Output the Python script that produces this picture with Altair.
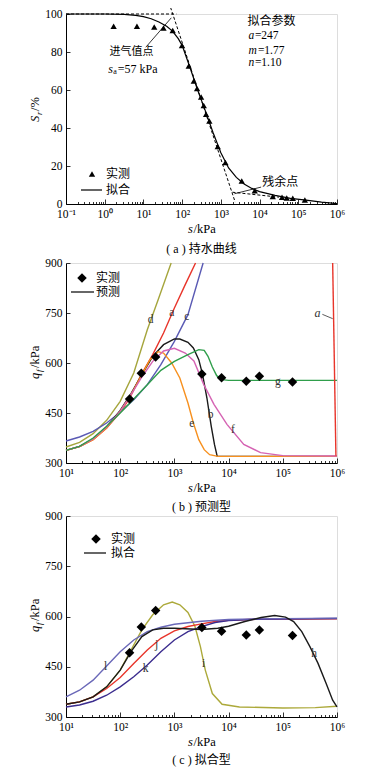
import altair as alt
import pandas as pd

FONT = "Liberation Serif, Noto Sans CJK SC, serif"
W = 271
HA, HB, HC = 190, 200, 201

# ---------------- panel (a): water retention curve ----------------
A_MEAS_S = [1.7, 6.8, 19, 33, 57, 99, 148, 200, 243, 309, 361, 415, 505, 830, 1310,
            3460, 7500, 21900, 38000, 50400, 72000, 148000]
A_MEAS_SR = [93.5, 93.5, 93.2, 92.6, 91.3, 83.4, 72.6, 64.7, 60.8, 56.3, 51.9, 47.2, 43.7,
             30.2, 21.9, 12.1, 7.0, 4.0, 3.5, 3.1, 3.0, 2.1]
A_FIT_LOG = [-1, 0, 0.5, 0.8, 1.0, 1.2, 1.4, 1.6, 1.75, 1.9, 2.0, 2.2, 2.4, 2.6, 2.8, 3.0,
             3.2, 3.4, 3.6, 3.8, 4.0, 4.4, 4.8, 5.2, 5.6, 6.0]
A_FIT_SR = [100, 100, 99.8, 99.3, 98.6, 97.5, 95.8, 93.5, 91, 87, 83.5, 72, 60, 49, 37.5, 27,
            19, 14, 10.5, 8.2, 6.5, 4.5, 3.0, 2.0, 1.0, 0.2]
A_DASH_ID = ["h", "h", "k", "k", "r", "r"]
A_DASH_LOG = [-1, 1.85, 1.70, 3.37, 3.3, 4.5]
A_DASH_SR = [100, 100, 103.5, 1.0, 6.2, 3.6]
A_NOTE_TXT = ["进气值点", "残余点", "拟合参数"]
A_NOTE_S = [1.32, 11750, 4842]
A_NOTE_SR = [79.9, 11.7, 96.2]
A_NOTE_SIZE = [11, 12, 12]
A_PAR_VAR = ["a", "m", "n"]
A_PAR_VAL = ["=247", "=1.77", "=1.10"]
A_PAR_DX = [6.5, 9.5, 6.5]
A_PAR_SR = [88.3, 80.4, 74.1]
A_PAR_S = 5140
A_SA_S, A_SA_SR = 1.24, 71.0
A_LEAD_S1 = [11.5, 10965]
A_LEAD_V1 = [82.5, 8.9]
A_LEAD_S2 = [52.5, 2239]
A_LEAD_V2 = [98, 5.4]

# ---------------- panel (b): predicted ----------------
MEAS_S = [149, 245, 451, 3210, 7420, 21200, 37000, 151000]
MEAS_Q = [492, 569, 618, 567, 556, 545, 560, 543]

B_ID = ["b_d", "b_a", "b_c", "b_b", "b_e", "b_f", "b_g", "b_a2"]
B_COL = ["#a5a53c", "#e8352b", "#5a5ab4", "#1a1a1a", "#f7901e", "#d563b3", "#2f9e4b", "#e8352b"]
B_D_LOG = [1.0, 1.25, 1.5, 1.75, 2.0, 2.25, 2.5, 2.7, 2.94]
B_D_Q = [348, 362, 388, 428, 485, 570, 700, 790, 900]
B_A_LOG = [1.0, 1.25, 1.5, 1.75, 2.0, 2.17, 2.39, 2.6, 2.8, 3.0, 3.2, 3.39]
B_A_Q = [338, 349, 370, 405, 452, 493, 565, 625, 690, 765, 835, 900]
B_C_LOG = [1.0, 1.25, 1.5, 1.75, 2.0, 2.25, 2.5, 2.75, 3.0, 3.25, 3.53]
B_C_Q = [366, 378, 395, 420, 452, 490, 535, 595, 665, 745, 900]
B_B_LOG = [1.0, 1.25, 1.5, 1.75, 2.0, 2.2, 2.4, 2.6, 2.8, 3.0, 3.1, 3.25, 3.35, 3.45, 3.52,
           3.6, 3.68, 3.74, 3.79, 6.0]
B_B_Q = [338, 350, 372, 408, 458, 508, 565, 620, 655, 672, 672, 662, 645, 610, 565, 495, 410,
         355, 320, 320]
B_E_LOG = [1.0, 1.25, 1.5, 1.75, 2.0, 2.2, 2.4, 2.55, 2.7, 2.8, 2.95, 3.1, 3.25, 3.35, 3.45,
           3.55, 3.65, 3.8, 6.0]
B_E_Q = [338, 349, 370, 405, 455, 505, 565, 610, 634, 630, 600, 555, 480, 420, 370, 340, 325,
         320, 320]
B_F_LOG = [1.0, 1.25, 1.5, 1.75, 2.0, 2.2, 2.4, 2.6, 2.8, 3.0, 3.2, 3.36, 3.54, 3.73, 3.97,
           4.28, 4.59, 5.0, 6.0]
B_F_Q = [338, 350, 372, 408, 455, 505, 558, 605, 636, 644, 630, 606, 536, 476, 416, 356, 331,
         322, 321]
B_G_LOG = [1.0, 1.25, 1.5, 1.75, 2.0, 2.25, 2.5, 2.75, 3.0, 3.25, 3.45, 3.55, 3.62, 3.7, 3.78,
           3.88, 4.0, 6.0]
B_G_Q = [338, 350, 375, 410, 450, 492, 535, 578, 605, 625, 640, 638, 620, 588, 562, 550, 548, 548]
B_A2_LOG = [5.92, 5.98]
B_A2_Q = [900, 322]
B_LBL = ["d", "a", "c", "b", "e", "f", "g"]
B_LBL_LOG = [2.56, 2.95, 3.23, 3.67, 3.32, 4.08, 4.91]
B_LBL_Q = [730, 751, 739, 445, 418, 400, 544]
B_ITA_LOG, B_ITA_Q = 5.64, 751
B_ITA_LEAD_LOG = [5.73, 5.92]
B_ITA_LEAD_Q = [746, 733]

# ---------------- panel (c): fitted ----------------
C_ID = ["c_i", "c_j", "c_k", "c_l", "c_h"]
C_COL = ["#aca93a", "#e8352b", "#3b2c8e", "#6a68b8", "#1a1a1a"]
C_H_LOG = [1.0, 1.25, 1.5, 1.75, 2.0, 2.2, 2.4, 2.6, 2.8, 3.0, 3.5, 3.8, 4.0, 4.3, 4.6, 4.85,
           5.05, 5.2, 5.35, 5.5, 5.65, 5.8, 5.92, 6.0]
C_H_Q = [338, 345, 360, 390, 440, 495, 540, 560, 565, 565, 561, 565, 571, 585, 597, 603, 598,
         585, 555, 510, 460, 400, 350, 330]
C_I_LOG = [1.0, 1.25, 1.5, 1.75, 2.0, 2.2, 2.4, 2.6, 2.8, 2.96, 3.1, 3.25, 3.38, 3.48, 3.57,
           3.7, 3.88, 4.2, 5.0, 5.6, 6.0]
C_I_Q = [338, 345, 360, 390, 440, 500, 560, 605, 635, 643, 635, 612, 570, 510, 440, 370, 338,
         330, 327, 328, 332]
C_J_LOG = [1.0, 1.25, 1.5, 1.75, 2.0, 2.25, 2.5, 2.75, 3.0, 3.25, 3.5, 3.75, 4.0, 4.5, 6.0]
C_J_Q = [338, 345, 360, 385, 418, 460, 500, 535, 557, 570, 578, 585, 589, 592, 593]
C_K_LOG = [1.0, 1.25, 1.5, 1.75, 2.0, 2.25, 2.5, 2.75, 3.0, 3.25, 3.5, 3.75, 4.0, 4.5, 6.0]
C_K_Q = [330, 336, 347, 365, 390, 420, 455, 495, 530, 555, 570, 582, 588, 592, 594]
C_L_LOG = [1.0, 1.25, 1.5, 1.75, 2.0, 2.25, 2.5, 2.75, 3.0, 3.5, 4.0, 4.5, 6.0]
C_L_Q = [360, 380, 410, 452, 495, 530, 555, 568, 577, 586, 591, 593, 595]
C_LBL = ["h", "i", "j", "k", "l"]
C_LBL_LOG = [5.58, 3.54, 2.67, 2.47, 1.73]
C_LBL_Q = [488, 459, 516, 444, 450]

ALL_ID = B_ID + C_ID
ALL_COL = B_COL + C_COL
COLOR_SCALE = alt.Scale(domain=ALL_ID, range=ALL_COL)

# ---------------- helpers ----------------
LBL_EXPR = ("'10' + ['⁻¹','⁰','¹','²','³','⁴','⁵','⁶']"
            "[round(log(datum.value)/LN10) + 1]")
MAJOR_TEST = "abs(log(datum.value)/LN10 - round(log(datum.value)/LN10)) < 0.001"
ONE = pd.DataFrame({"i": [0]})


def ax_bottom(majors):
    return alt.Axis(orient="bottom", values=majors, ticks=False, grid=False,
                    domainColor="black", domainWidth=1, labelExpr=LBL_EXPR,
                    labelFont=FONT, labelFontSize=11.5, labelColor="black",
                    labelPadding=4.5, labelFlush=False, labelOverlap=False, title=None)


def ax_top(H, allt):
    return alt.Axis(orient="top", offset=-H, values=allt, labels=False, domain=False,
                    grid=False, ticks=True, tickColor="black", tickWidth=0.8,
                    tickSize={"condition": {"test": MAJOR_TEST, "value": 5}, "value": 2.5},
                    title=None)


def ax_left(vals):
    return alt.Axis(orient="left", values=vals, ticks=False, grid=False,
                    domainColor="black", domainWidth=1, labelFont=FONT,
                    labelFontSize=11.5, labelColor="black", labelPadding=4,
                    labelFlush=False, title=None)


def ax_right(vals):
    return alt.Axis(orient="right", offset=-W, values=vals, labels=False, domain=False,
                    grid=False, tickColor="black", tickSize=4, tickWidth=0.8, title=None)


def txt(x, y, s, size=12, style="normal", align="left", angle=0, dx=0, dy=0, color="black"):
    return alt.Chart(ONE).mark_text(text=s, fontSize=size, fontStyle=style, align=align,
                                    baseline="middle" if angle == 0 else "alphabetic",
                                    angle=angle, dx=dx, dy=dy, color=color, font=FONT
                                    ).encode(x=alt.value(x), y=alt.value(y))


def curves(ids, logs, vals):
    rows = []
    for k, lg, vv in zip(ids, logs, vals):
        for a, b in zip(lg, vv):
            rows.append({"s": 10 ** a, "q": b, "k": k})
    return pd.DataFrame(rows)


def decorations(H, ytitle_main, ytitle_sub, ytitle_rest, ystart, caption, cap_dy,
                legend_sym, legend_txt, leg):
    sx, sy, lx1, lx2, ly, tx = leg
    layers = []
    layers.append(txt(-27, ystart, ytitle_main, 12.5, "italic", angle=270))
    layers.append(txt(-24, ystart - 7, ytitle_sub, 8.5, "italic", angle=270))
    layers.append(txt(-27, ystart - 11, ytitle_rest, 12.5, angle=270))
    layers.append(txt(122, H + 25, "s", 12.5, "italic"))
    layers.append(txt(127.5, H + 25, "/kPa", 12.5))
    layers.append(txt(W / 2, H + cap_dy, caption, 12, align="center"))
    if legend_sym == "triangle-up":
        layers.append(alt.Chart(ONE).mark_point(shape="triangle-up", filled=True, size=40,
                                                color="black", opacity=1)
                      .encode(x=alt.value(sx), y=alt.value(sy)))
    else:
        layers.append(alt.Chart(ONE).mark_point(shape="diamond", filled=True, size=90,
                                                color="black", opacity=1)
                      .encode(x=alt.value(sx), y=alt.value(sy)))
    layers.append(txt(tx, sy, "实测", 12))
    layers.append(alt.Chart(ONE).mark_rule(color="black", strokeWidth=1.2)
                  .encode(x=alt.value(lx1), x2=alt.value(lx2), y=alt.value(ly)))
    layers.append(txt(tx, ly, legend_txt, 12))
    return layers


# ---------------- panel (a) ----------------
xa = alt.Scale(type="log", domain=[0.1, 1e6], nice=False)
ya = alt.Scale(domain=[0, 100], nice=False, zero=False)
a_major = [10.0 ** e for e in range(-1, 7)]
a_all = [k * 10.0 ** e for e in range(-1, 6) for k in range(1, 10)] + [1e6]

fit_a = pd.DataFrame({"s": [10 ** v for v in A_FIT_LOG], "q": A_FIT_SR})
meas_a = pd.DataFrame({"s": A_MEAS_S, "q": A_MEAS_SR})
dash_a = pd.DataFrame({"s": [10 ** v for v in A_DASH_LOG], "q": A_DASH_SR, "k": A_DASH_ID})
note_a = pd.DataFrame({"s": A_NOTE_S, "q": A_NOTE_SR, "t": A_NOTE_TXT, "z": A_NOTE_SIZE})
lead_a = pd.DataFrame({"s": A_LEAD_S1, "q": A_LEAD_V1, "s2": A_LEAD_S2, "q2": A_LEAD_V2})

XA = lambda ax=None: alt.X("s:Q", scale=xa, axis=ax)
YA = lambda ax=None: alt.Y("q:Q", scale=ya, axis=ax)


def at_a():
    return dict(x=alt.X("s0:Q", scale=xa, axis=None), y=alt.Y("v0:Q", scale=ya, axis=None))


la = [
    alt.Chart(fit_a).mark_line(color="black", strokeWidth=1.2).encode(
        x=XA(ax_bottom(a_major)), y=YA(ax_left([0, 20, 40, 60, 80, 100]))),
    alt.Chart(meas_a).mark_point(shape="triangle-up", filled=True, size=40, color="black",
                                 opacity=1).encode(
        x=XA(ax_top(HA, a_all)), y=YA(ax_right([0, 20, 40, 60, 80, 100]))),
    alt.Chart(dash_a).mark_line(color="black", strokeWidth=1, strokeDash=[3, 2]).encode(
        x=XA(), y=YA(), detail="k:N"),
    alt.Chart(lead_a).mark_rule(color="black", strokeWidth=0.8).encode(
        x=XA(), y=YA(), x2="s2:Q", y2="q2:Q"),
    alt.Chart(note_a).mark_text(align="left", baseline="middle", font=FONT, color="black").encode(
        x=XA(), y=YA(), text="t:N", size=alt.Size("z:Q", scale=None, legend=None)),
    alt.Chart(ONE).mark_text(text="s", fontSize=12, fontStyle="italic", align="left",
                             font=FONT, color="black").encode(**at_a()
    ).transform_calculate(s0=str(A_SA_S), v0=str(A_SA_SR)),
    alt.Chart(ONE).mark_text(text="a", fontSize=8, align="left", dx=5, dy=3,
                             font=FONT, color="black").encode(**at_a()
    ).transform_calculate(s0=str(A_SA_S), v0=str(A_SA_SR)),
    alt.Chart(ONE).mark_text(text="=57 kPa", fontSize=12, align="left", dx=9.5,
                             font=FONT, color="black").encode(**at_a()
    ).transform_calculate(s0=str(A_SA_S), v0=str(A_SA_SR)),
]
for var, val, dx, v in zip(A_PAR_VAR, A_PAR_VAL, A_PAR_DX, A_PAR_SR):
    la.append(alt.Chart(ONE).mark_text(text=var, fontSize=11.5, fontStyle="italic",
                                       align="left", font=FONT, color="black").encode(
        **at_a()).transform_calculate(s0=str(A_PAR_S), v0=str(v)))
    la.append(alt.Chart(ONE).mark_text(text=val, fontSize=11.5, align="left", dx=dx,
                                       font=FONT, color="black").encode(
        **at_a()).transform_calculate(s0=str(A_PAR_S), v0=str(v)))
la += decorations(HA, "S", "r", "/%", 108, "( a ) 持水曲线", 45, "triangle-up", "拟合",
                  (26, 160, 15, 36, 176, 40))
panel_a = alt.layer(*la).resolve_axis(x="independent", y="independent").properties(
    width=W, height=HA)

# ---------------- panels (b), (c) ----------------
xb = alt.Scale(type="log", domain=[10, 1e6], nice=False)
yb = alt.Scale(domain=[300, 900], nice=False, zero=False)
b_major = [10.0 ** e for e in range(1, 7)]
b_all = [k * 10.0 ** e for e in range(1, 6) for k in range(1, 10)] + [1e6]
QV = [300, 450, 600, 750, 900]
meas_bc = pd.DataFrame({"s": MEAS_S, "q": MEAS_Q})

XB = lambda ax=None: alt.X("s:Q", scale=xb, axis=ax)
YB = lambda ax=None: alt.Y("q:Q", scale=yb, axis=ax)

cur_b = curves(B_ID, [B_D_LOG, B_A_LOG, B_C_LOG, B_B_LOG, B_E_LOG, B_F_LOG, B_G_LOG, B_A2_LOG],
               [B_D_Q, B_A_Q, B_C_Q, B_B_Q, B_E_Q, B_F_Q, B_G_Q, B_A2_Q])
lbl_b = pd.DataFrame({"s": [10 ** v for v in B_LBL_LOG], "q": B_LBL_Q, "t": B_LBL})
lead_b = pd.DataFrame({"s": [10 ** v for v in B_ITA_LEAD_LOG], "q": B_ITA_LEAD_Q, "k": ["x", "x"]})

lb = [
    alt.Chart(cur_b).mark_line(strokeWidth=1.4).encode(
        x=XB(ax_bottom(b_major)), y=YB(ax_left(QV)), detail="k:N",
        color=alt.Color("k:N", scale=COLOR_SCALE, legend=None)),
    alt.Chart(meas_bc).mark_point(shape="diamond", filled=True, size=90, color="black",
                                  opacity=1).encode(
        x=XB(ax_top(HB, b_all)), y=YB(ax_right(QV))),
    alt.Chart(lbl_b).mark_text(fontSize=11.5, font=FONT, color="#333333").encode(
        x=XB(), y=YB(), text="t:N"),
    alt.Chart(ONE).mark_text(text="a", fontSize=12, fontStyle="italic", font=FONT,
                             color="#333333").encode(
        x=alt.X("s0:Q", scale=xb, axis=None), y=alt.Y("v0:Q", scale=yb, axis=None)
    ).transform_calculate(s0=str(10 ** B_ITA_LOG), v0=str(B_ITA_Q)),
    alt.Chart(lead_b).mark_line(color="#333333", strokeWidth=0.8).encode(
        x=XB(), y=YB(), detail="k:N"),
]
lb += decorations(HB, "q", "f", "/kPa", 116, "( b ) 预测型", 44, "diamond", "预测",
                  (16, 15, 5, 28, 29, 30))
panel_b = alt.layer(*lb).resolve_axis(x="independent", y="independent").properties(
    width=W, height=HB)

cur_c = curves(C_ID, [C_I_LOG, C_J_LOG, C_K_LOG, C_L_LOG, C_H_LOG],
               [C_I_Q, C_J_Q, C_K_Q, C_L_Q, C_H_Q])
lbl_c = pd.DataFrame({"s": [10 ** v for v in C_LBL_LOG], "q": C_LBL_Q, "t": C_LBL})
lc = [
    alt.Chart(cur_c).mark_line(strokeWidth=1.4).encode(
        x=XB(ax_bottom(b_major)), y=YB(ax_left(QV)), detail="k:N",
        color=alt.Color("k:N", scale=COLOR_SCALE, legend=None)),
    alt.Chart(meas_bc).mark_point(shape="diamond", filled=True, size=90, color="black",
                                  opacity=1).encode(
        x=XB(ax_top(HC, b_all)), y=YB(ax_right(QV))),
    alt.Chart(lbl_c).mark_text(fontSize=11.5, font=FONT, color="#333333").encode(
        x=XB(), y=YB(), text="t:N"),
]
lc += decorations(HC, "q", "f", "/kPa", 116, "( c ) 拟合型", 43, "diamond", "拟合",
                  (30, 23, 18, 40, 37, 45))
panel_c = alt.layer(*lc).resolve_axis(x="independent", y="independent").properties(
    width=W, height=HC)

top_two = alt.vconcat(panel_a, panel_b, spacing=0)
chart = alt.vconcat(top_two, panel_c, spacing=-5).properties(
    padding={"left": 20, "top": -4, "right": 5, "bottom": 0}
).configure_view(stroke=None).configure(font=FONT)

chart.save("out.html", embed_options={"renderer": "svg", "actions": False})
